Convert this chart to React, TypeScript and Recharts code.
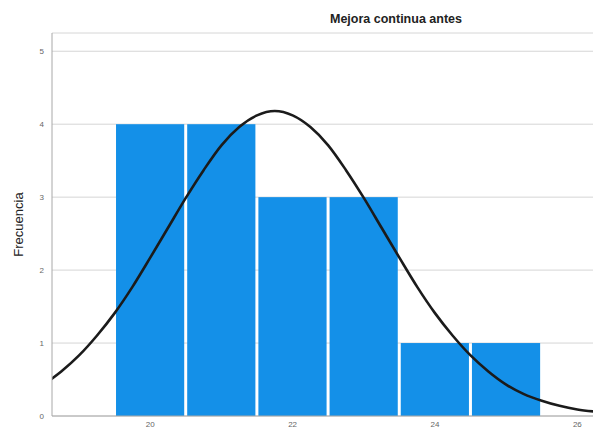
import React from "react";
import {
  ComposedChart,
  Bar,
  Line,
  XAxis,
  YAxis,
  CartesianGrid,
} from "recharts";

// histograma: puntaje por clase (ancho 1) y su frecuencia
const binCenters = [20, 21, 22, 23, 24, 25];
const counts = [4, 4, 3, 3, 1, 1];

// curva normal superpuesta, leída punto a punto
const curveX = [
  18.5, 18.75, 19, 19.25, 19.5, 19.75, 20, 20.25, 20.5, 20.75, 21, 21.25, 21.5,
  21.75, 22, 22.25, 22.5, 22.75, 23, 23.25, 23.5, 23.75, 24, 24.25, 24.5, 24.75,
  25, 25.25, 25.5, 25.75, 26, 26.25,
];
const curveY = [
  0.43, 0.61, 0.83, 1.1, 1.41, 1.77, 2.17, 2.58, 2.99, 3.37, 3.71, 3.96, 4.12,
  4.18, 4.12, 3.96, 3.71, 3.37, 2.99, 2.58, 2.17, 1.77, 1.41, 1.1, 0.83, 0.61,
  0.43, 0.3, 0.21, 0.14, 0.09, 0.06,
];

const xTicks = [20, 22, 24, 26];
const yTicks = [0, 1, 2, 3, 4, 5];
const xDomain: [number, number] = [18.62, 26.22];
const yDomain: [number, number] = [0, 5.25];

const W = 595;
const H = 432;
const margin = { top: 33, right: 2, left: 0, bottom: 0 };
const yAxisW = 52;
const plotW = W - margin.left - margin.right - yAxisW;
const binWidth = 1;
// ancho de cada barra en px = una clase completa en la escala del eje X
const barPx = (plotW / (xDomain[1] - xDomain[0])) * binWidth;

const rows = curveX.map((x, i) => {
  const k = binCenters.indexOf(x);
  return { x, curva: curveY[i], frecuencia: k >= 0 ? counts[k] : null };
});

const font = "Liberation Sans, Arial, sans-serif";
const tickStyle = { fontSize: 8, fill: "#666", fontFamily: font };

// barra de histograma centrada en su valor, con separación blanca
const BinBar = (props: any) => {
  const { x, y, width, height } = props;
  if (height == null || height <= 0) return null;
  const cx = x + width / 2;
  return (
    <rect
      x={cx - barPx / 2 + 1.5}
      y={y}
      width={barPx - 3}
      height={height}
      fill="#1490e8"
    />
  );
};

export default function App() {
  return (
    <div style={{ position: "fixed", left: 0, top: 0, width: W, height: H, background: "#fff" }}>
      <div
        style={{
          position: "absolute",
          left: 296,
          width: 200,
          top: 12,
          textAlign: "center",
          fontFamily: font,
          fontWeight: "bold",
          fontSize: 12.5,
          color: "#222",
        }}
      >
        Mejora continua antes
      </div>
      <ComposedChart width={W} height={H} data={rows} margin={margin}>
        <CartesianGrid stroke="#d6d6d6" vertical={false} />
        <XAxis
          dataKey="x"
          type="number"
          domain={xDomain}
          ticks={xTicks}
          allowDataOverflow
          height={16}
          tickLine={false}
          tickSize={0}
          tickMargin={5}
          stroke="#a8a8a8"
          tick={tickStyle}
        />
        <YAxis
          type="number"
          domain={yDomain}
          ticks={yTicks}
          allowDataOverflow
          width={yAxisW}
          tickLine={false}
          tickSize={0}
          tickMargin={8}
          stroke="#a8a8a8"
          tick={tickStyle}
          label={{
            value: "Frecuencia",
            angle: -90,
            position: "insideLeft",
            offset: 18,
            style: {
              fontSize: 13,
              fill: "#222",
              textAnchor: "middle",
              fontFamily: font,
            },
          }}
        />
        <Bar
          dataKey="frecuencia"
          shape={BinBar}
          isAnimationActive={false}
        />
        <Line
          dataKey="curva"
          type="monotone"
          stroke="#1b1b1b"
          strokeWidth={2.6}
          dot={false}
          activeDot={false}
          isAnimationActive={false}
        />
      </ComposedChart>
    </div>
  );
}
